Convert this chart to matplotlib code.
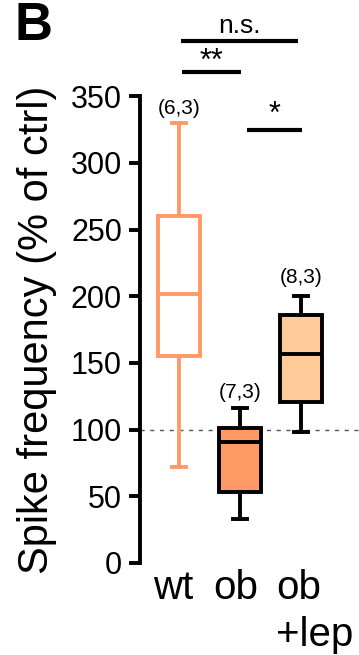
import matplotlib.pyplot as plt

plt.rcParams["font.family"] = ["Liberation Sans", "DejaVu Sans"]

# data (percent of control)
groups = ["wt", "ob", "ob\n+lep"]
whisker_low = [72, 33, 98.5]
q1 = [155, 53.5, 121]
median = [202, 91, 157]
q3 = [260, 101, 186]
whisker_high = [330, 116, 200]
n_labels = ["(6,3)", "(7,3)", "(8,3)"]
n_label_y = [341, 127.5, 214]

face_colors = ["white", "#FF9966", "#FFCC99"]
edge_colors = ["#FF9966", "black", "black"]

positions = [1, 2, 3]
label_positions = [0.90, 1.93, 3.23]

fig = plt.figure(figsize=(3.59, 6.55), dpi=100)
ax = fig.add_axes([0.39, 0.1405, 0.61, 0.7125])

for i, pos in enumerate(positions):
    stats = [dict(med=median[i], q1=q1[i], q3=q3[i],
                  whislo=whisker_low[i], whishi=whisker_high[i], fliers=[])]
    ec = edge_colors[i]
    ax.bxp(stats, positions=[pos], widths=0.69, patch_artist=True, showfliers=False,
           boxprops=dict(facecolor=face_colors[i], edgecolor=ec, linewidth=2.8),
           medianprops=dict(color=ec, linewidth=2.8),
           whiskerprops=dict(color=ec, linewidth=2.8),
           capprops=dict(color=ec, linewidth=2.8),
           capwidths=0.22, manage_ticks=False)
    ax.text(pos, n_label_y[i], n_labels[i], ha="center", va="center", fontsize=15)

ax.axhline(100, color="#555555", lw=1, ls=(0, (3, 4)), zorder=0)

# significance bars
sig_lines = [(1.03, 2.95, 391.5, "n.s.", 403), (1.05, 2.02, 368, "**", 375.5), (2.11, 3.02, 324.6, "*", 336)]
for x0, x1, y, label, ty in sig_lines:
    ax.plot([x0, x1], [y, y], color="black", lw=3, clip_on=False, solid_capstyle="butt")
    ax.text((x0 + x1) / 2, ty, label, ha="center", va="center", fontsize=19 if label == "n.s." else 22,
            clip_on=False)

ax.set_xlim(0.36, 3.95)
ax.set_ylim(0, 350)
ax.set_yticks(range(0, 351, 50))
ax.set_xticks(label_positions)
ax.set_xticklabels(groups, fontsize=29, linespacing=1.3, va="top", multialignment="left")
ax.tick_params(axis="y", labelsize=22, width=2.8, length=8, pad=5)
ax.tick_params(axis="x", length=0, pad=4)
for side in ["top", "right", "bottom"]:
    ax.spines[side].set_visible(False)
ax.spines["left"].set_linewidth(2.8)
ax.set_ylabel("Spike frequency (% of ctrl)", fontsize=30, labelpad=10)
ax.patch.set_alpha(0)

fig.text(0.04, 0.999, "B", fontsize=38, fontweight="bold", ha="left", va="top")

fig.savefig("out.png", dpi=100)
